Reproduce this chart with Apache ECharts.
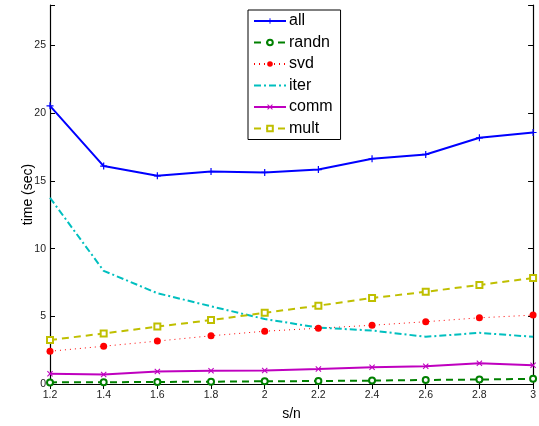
<!DOCTYPE html>
<html>
<head>
<meta charset="utf-8">
<script src="https://cdn.jsdelivr.net/npm/echarts@6/dist/echarts.min.js"></script>
<style>
  html, body { margin: 0; padding: 0; background: #fff; }
  #chart { width: 539px; height: 426px; }
</style>
</head>
<body>
<div id="chart"></div>
<script>
// x軸のカテゴリ (s/n)
const sOverN = ['1.2', '1.4', '1.6', '1.8', '2', '2.2', '2.4', '2.6', '2.8', '3']
const yTicks = [0, 5, 10, 15, 20, 25]

// 各系列の値 (time, sec)
const allTime   = [20.55, 16.1, 15.38, 15.7, 15.63, 15.84, 16.64, 16.96, 18.19, 18.58]
const randnTime = [0.12, 0.13, 0.15, 0.17, 0.2, 0.22, 0.25, 0.3, 0.33, 0.38]
const svdTime   = [2.42, 2.79, 3.17, 3.56, 3.9, 4.12, 4.34, 4.6, 4.89, 5.09]
const iterTime  = [13.76, 8.36, 6.71, 5.74, 4.8, 4.17, 3.95, 3.49, 3.78, 3.49]
const commTime  = [0.75, 0.7, 0.92, 0.97, 0.99, 1.11, 1.24, 1.31, 1.53, 1.38]
const multTime  = [3.25, 3.73, 4.24, 4.72, 5.26, 5.79, 6.35, 6.81, 7.32, 7.83]

const FONT = 'Liberation Sans, Arial, sans-serif'

// マーカー用のパス
const plusSymbol = 'path://M-1,-0.17 L1,-0.17 L1,0.17 L-1,0.17 Z M-0.17,-1 L0.17,-1 L0.17,1 L-0.17,1 Z'
const crossSymbol = 'path://M-1,-0.75 L-0.75,-1 L0,-0.25 L0.75,-1 L1,-0.75 L0.25,0 L1,0.75 L0.75,1 L0,0.25 L-0.75,1 L-1,0.75 L-0.25,0 Z'

function makeSeries(name, data, color, lineType, width, symbol, symbolSize, itemStyle) {
  return {
    name: name,
    type: 'line',
    data: data,
    symbol: symbol,
    symbolSize: symbolSize,
    showSymbol: symbol !== 'none',
    lineStyle: { color: color, width: width, type: lineType },
    itemStyle: Object.assign({ color: color }, itemStyle || {}),
    emphasis: { disabled: true },
    animation: false
  }
}

const axisCommon = {
  axisLine: { show: true, lineStyle: { color: '#000', width: 1.2 } },
  axisTick: { show: true, inside: true, length: 5, lineStyle: { color: '#000', width: 1 } },
  splitLine: { show: false }
}

const myChart = echarts.init(document.getElementById('chart'))
myChart.setOption({
  backgroundColor: '#fff',
  textStyle: { fontFamily: FONT },
  grid: { left: 50, right: 1, top: 5, bottom: 36 },
  legend: {
    orient: 'vertical',
    left: 248,
    top: 10,
    padding: [3, 8, 3, 5],
    itemGap: 5.5,
    itemWidth: 32,
    itemHeight: 7,
    borderColor: '#000',
    borderWidth: 1,
    backgroundColor: '#fff',
    textStyle: { fontFamily: FONT, fontSize: 16, color: '#000', padding: [0, 0, 0, -2] },
    data: [
      'all', 'randn', 'svd',
      { name: 'iter', itemStyle: { opacity: 0 } },
      'comm', 'mult'
    ]
  },
  xAxis: [
    Object.assign({
      type: 'category',
      data: sOverN,
      boundaryGap: false,
      name: 's/n',
      nameLocation: 'middle',
      nameGap: 23,
      nameMoveOverlap: false,
      nameTextStyle: { fontFamily: FONT, fontSize: 14, color: '#000' },
      axisLabel: { color: '#222', fontSize: 10.5, fontFamily: FONT, margin: 6, showMinLabel: true, showMaxLabel: true, interval: 0 }
    }, axisCommon),
    Object.assign({
      type: 'category',
      data: sOverN,
      boundaryGap: false,
      position: 'top',
      axisLabel: { show: false }
    }, axisCommon)
  ],
  yAxis: [
    Object.assign({
      type: 'value',
      min: 0,
      max: 28,
      interval: 5,
      name: 'time (sec)',
      nameLocation: 'middle',
      nameGap: 15,
      nameMoveOverlap: false,
      nameTextStyle: { fontFamily: FONT, fontSize: 14, color: '#000' },
      axisLabel: {
        color: '#222', fontSize: 10.5, fontFamily: FONT, margin: 4,
        formatter: v => yTicks.includes(v) ? String(v) : ''
      }
    }, axisCommon),
    Object.assign({
      type: 'value',
      min: 0,
      max: 28,
      interval: 5,
      position: 'right',
      axisLabel: { show: false }
    }, axisCommon)
  ],
  series: [
    makeSeries('all', allTime, '#0000ff', 'solid', 2, plusSymbol, 7),
    makeSeries('randn', randnTime, '#008000', [7, 5], 2, 'emptyCircle', 6, { borderWidth: 2 }),
    makeSeries('svd', svdTime, '#ff0000', [1, 4], 1, 'circle', 7),
    makeSeries('iter', iterTime, '#00bfbf', [7, 3, 2, 3], 2, 'none', 0),
    makeSeries('comm', commTime, '#bf00bf', 'solid', 2, crossSymbol, 6),
    makeSeries('mult', multTime, '#bfbf00', [7, 5], 2, 'emptyRect', 6, { borderWidth: 2 })
  ]
})
</script>
</body>
</html>
